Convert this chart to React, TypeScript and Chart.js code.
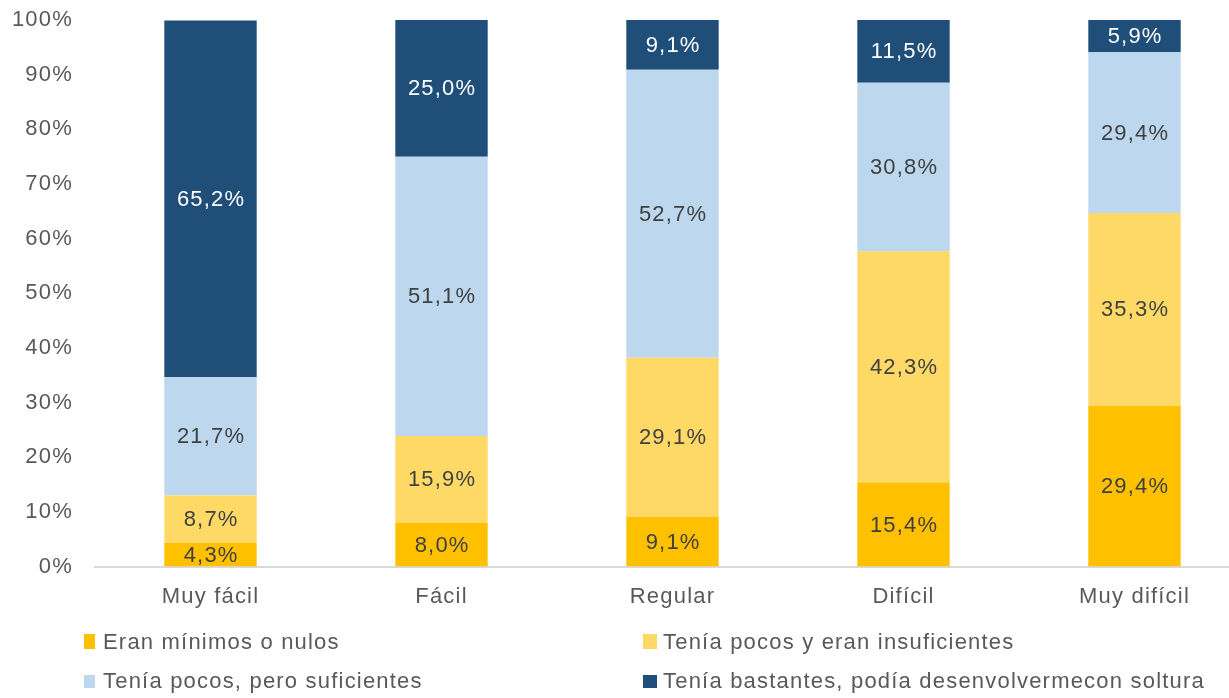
import React, { useEffect, useRef } from "react";
import { Chart, registerables } from "chart.js";

Chart.register(...registerables);

const categories = ["Muy fácil", "Fácil", "Regular", "Difícil", "Muy difícil"];
const seriesNames = [
  "Eran mínimos o nulos",
  "Tenía pocos y eran insuficientes",
  "Tenía pocos, pero suficientes",
  "Tenía bastantes, podía desenvolvermecon soltura",
];
const minimos = [4.3, 8.0, 9.1, 15.4, 29.4];
const pocosInsuf = [8.7, 15.9, 29.1, 42.3, 35.3];
const pocosSuf = [21.7, 51.1, 52.7, 30.8, 29.4];
const bastantes = [65.2, 25.0, 9.1, 11.5, 5.9];
const yTicks = [0, 10, 20, 30, 40, 50, 60, 70, 80, 90, 100];
const colors = ["#FFC000", "#FFD966", "#BDD7EE", "#1F4E79"];
const labelColors = ["#404040", "#404040", "#404040", "#FFFFFF"];

const FONT = "'Liberation Sans', Arial, sans-serif";
const SPACING = "1.2px";

const spacingPlugin = {
  id: "letterSpacing",
  beforeUpdate(chart: any) {
    chart.ctx.letterSpacing = SPACING;
  },
  beforeDraw(chart: any) {
    chart.ctx.letterSpacing = SPACING;
  },
};

const dataLabelPlugin = {
  id: "dataLabels",
  afterDatasetsDraw(chart: any) {
    const ctx = chart.ctx;
    ctx.save();
    ctx.letterSpacing = SPACING;
    ctx.font = `22px ${FONT}`;
    ctx.textAlign = "center";
    ctx.textBaseline = "middle";
    chart.data.datasets.forEach((ds: any, i: number) => {
      const meta = chart.getDatasetMeta(i);
      ctx.fillStyle = labelColors[i];
      meta.data.forEach((bar: any, j: number) => {
        const v = ds.data[j];
        const y = (bar.y + bar.base) / 2;
        ctx.fillText(v.toFixed(1).replace(".", ",") + "%", bar.x + 0.6, y + 1);
      });
    });
    ctx.restore();
  },
};

const legendPlugin = {
  id: "customLegend",
  afterDraw(chart: any) {
    const ctx = chart.ctx;
    ctx.save();
    ctx.letterSpacing = SPACING;
    ctx.font = `22px ${FONT}`;
    ctx.textBaseline = "alphabetic";
    ctx.textAlign = "left";
    const boxX = [84, 643];
    const boxW = [11, 14];
    const textX = [103, 663];
    const baselines = [649, 688];
    const boxH = [15, 13];
    seriesNames.forEach((name, i) => {
      const c = i % 2;
      const r = Math.floor(i / 2);
      ctx.fillStyle = colors[i];
      ctx.fillRect(boxX[c], baselines[r] - boxH[r], boxW[c], boxH[r]);
      ctx.fillStyle = "#595959";
      ctx.fillText(name, textX[c], baselines[r]);
    });
    ctx.restore();
  },
};

export default function App() {
  const ref = useRef<HTMLCanvasElement>(null);
  useEffect(() => {
    if (!ref.current) return;
    const series = [minimos, pocosInsuf, pocosSuf, bastantes];
    const chart = new Chart(ref.current, {
      type: "bar",
      data: {
        labels: categories,
        datasets: series.map((d, i) => ({
          label: seriesNames[i],
          data: d,
          backgroundColor: colors[i],
          borderWidth: 0,
          categoryPercentage: 1,
          barPercentage: 0.4,
        })),
      },
      options: {
        responsive: false,
        animation: false,
        devicePixelRatio: 1,
        layout: { padding: { top: 20, bottom: 71, left: 0, right: 0 } },
        plugins: { legend: { display: false }, tooltip: { enabled: false } },
        scales: {
          x: {
            stacked: true,
            grid: { display: false, drawTicks: false },
            border: { display: true, color: "#D9D9D9", width: 2 },
            ticks: { color: "#595959", font: { family: FONT, size: 22 }, padding: 17 },
            afterFit(scale: any) {
              scale.paddingLeft = 0;
              scale.paddingRight = 0;
            },
          },
          y: {
            stacked: true,
            min: 0,
            max: 100,
            afterFit(scale: any) {
              scale.width = 95;
              scale.paddingTop = 0;
              scale.paddingBottom = 0;
            },
            afterBuildTicks(scale: any) {
              scale.ticks = yTicks.map((v) => ({ value: v }));
            },
            grid: { display: false, drawTicks: false },
            border: { display: false },
            ticks: {
              color: "#595959",
              font: { family: FONT, size: 22 },
              padding: 22,
              callback: (v: any) => v + "%",
            },
          },
        },
      },
      plugins: [spacingPlugin, dataLabelPlugin, legendPlugin],
    });
    return () => chart.destroy();
  }, []);
  return (
    <div style={{ position: "fixed", left: 0, top: 0, width: 1229, height: 698, overflow: "hidden", background: "#fff" }}>
      <canvas ref={ref} width={1250} height={698} style={{ width: 1250, height: 698, display: "block" }} />
    </div>
  );
}
